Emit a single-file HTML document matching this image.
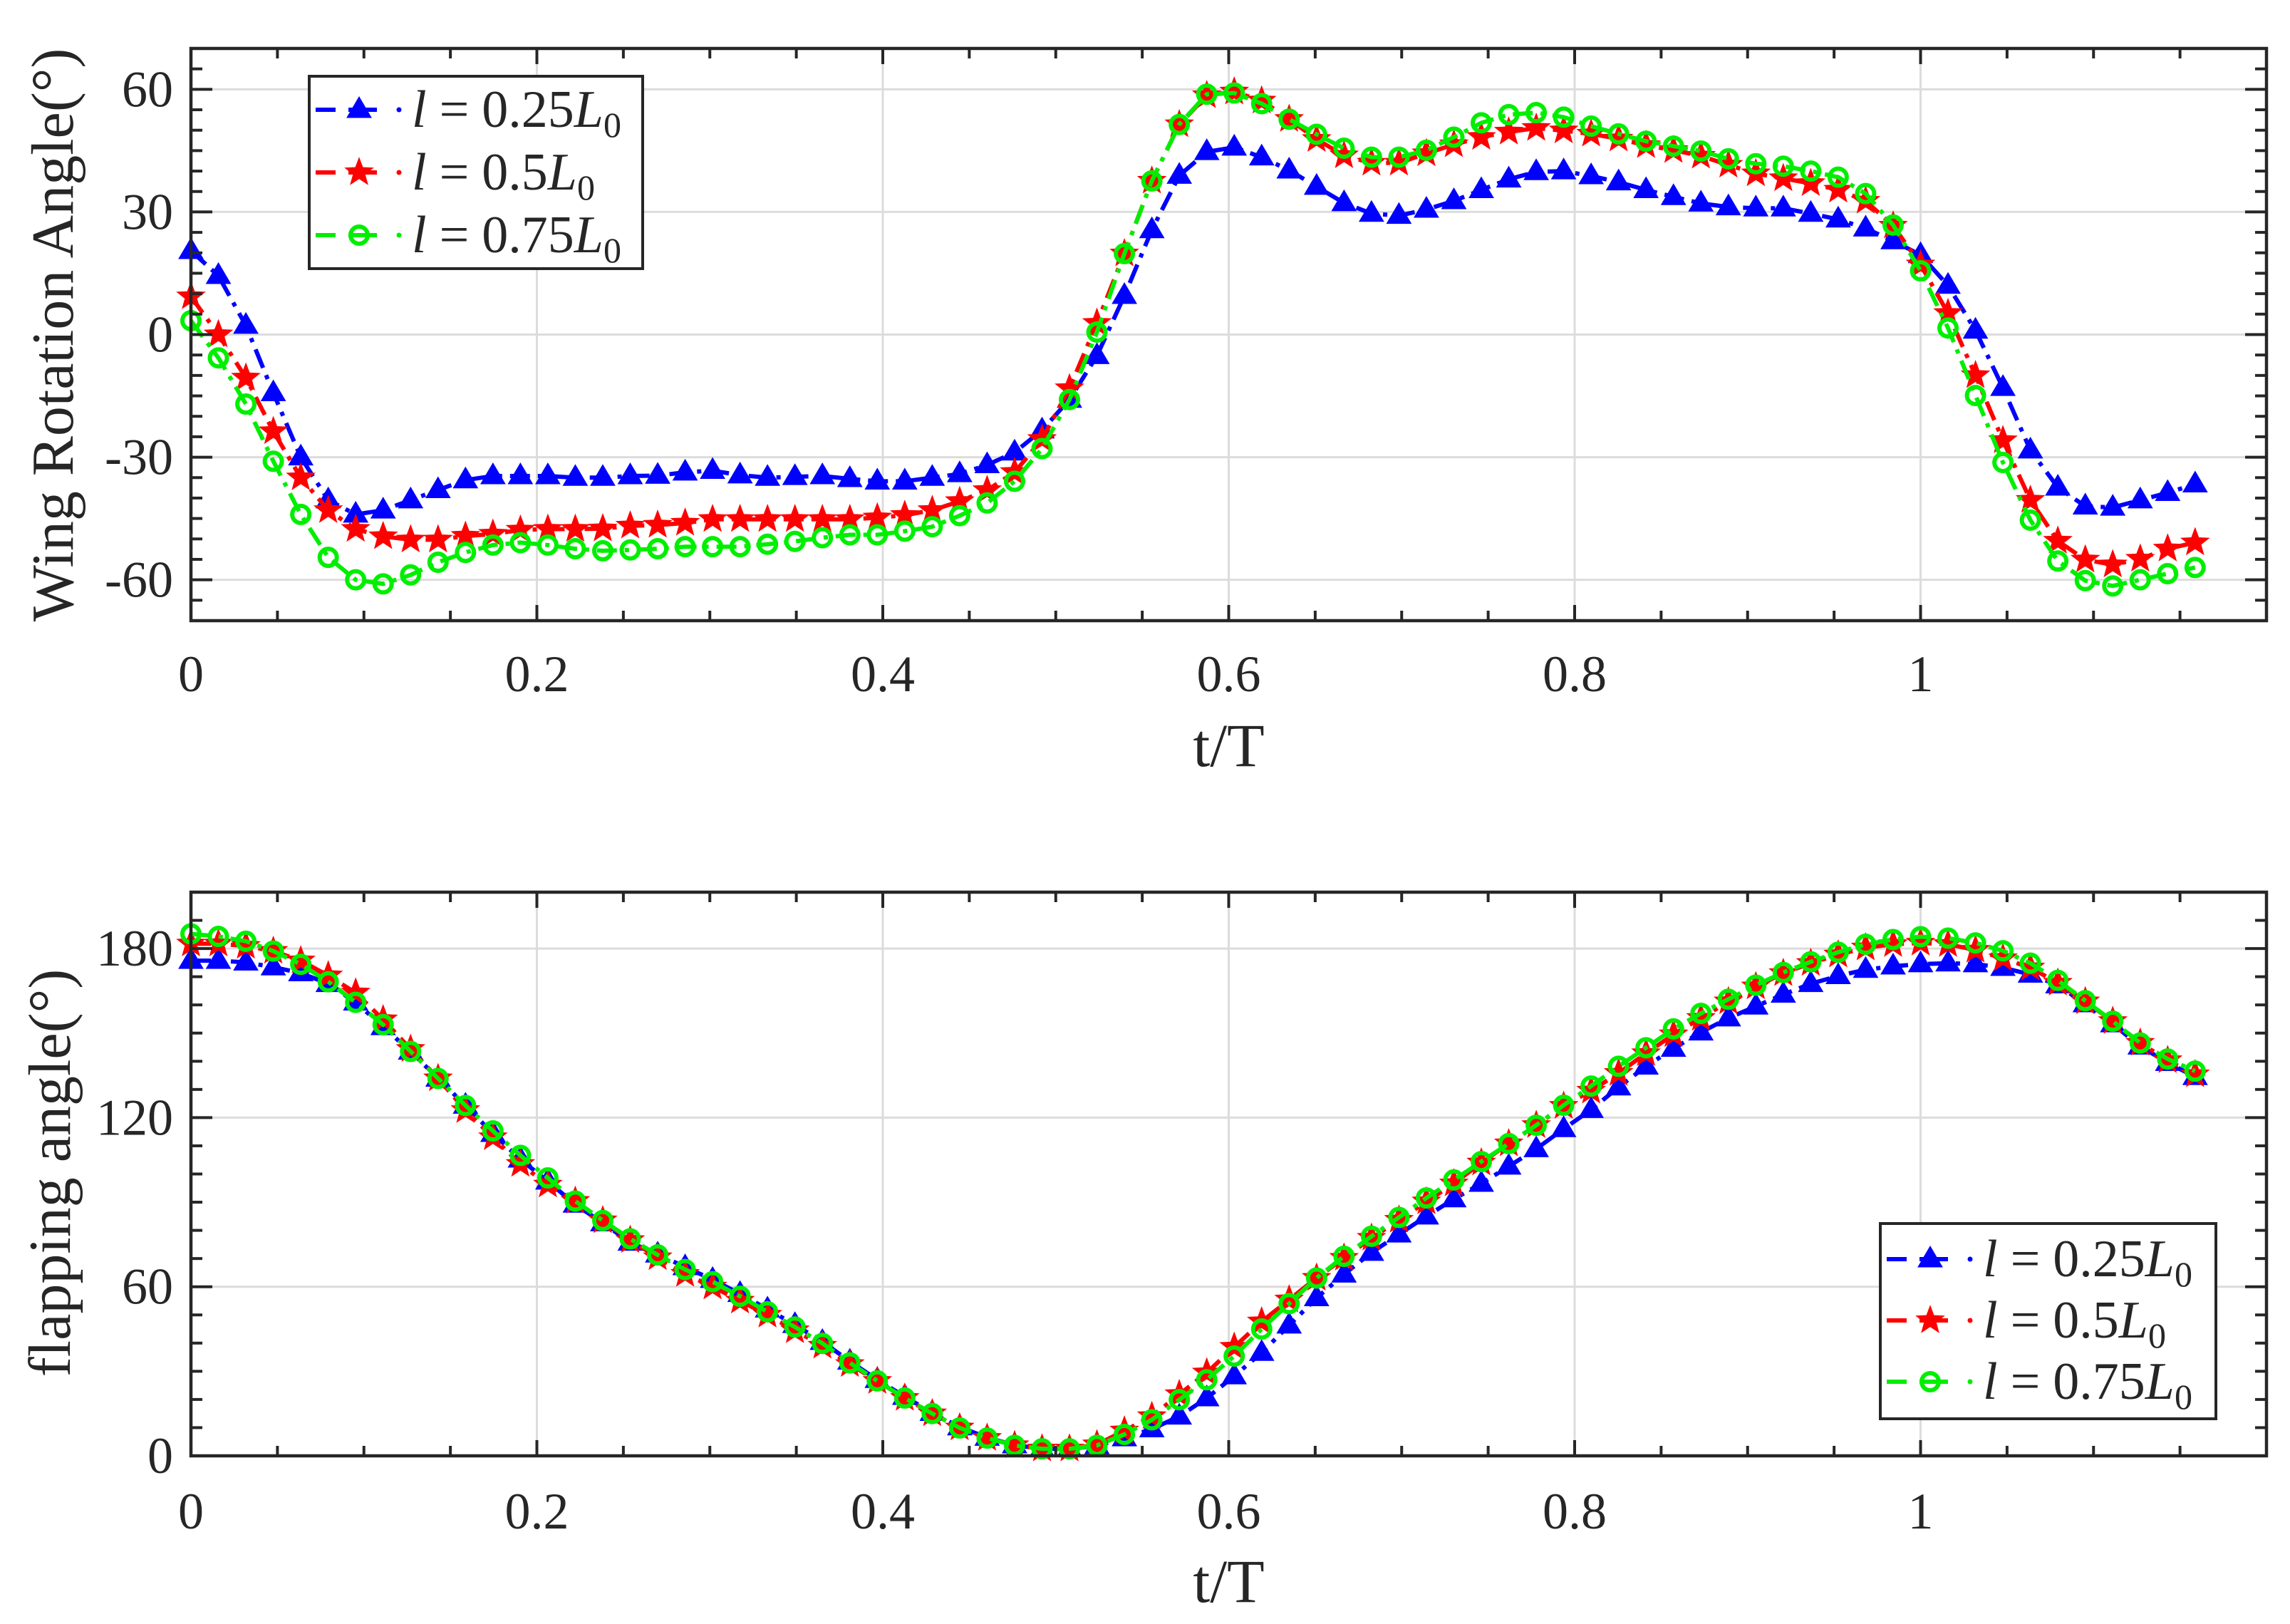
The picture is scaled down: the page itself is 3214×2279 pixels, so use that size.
<!DOCTYPE html>
<html><head><meta charset="utf-8"><style>
html,body{margin:0;padding:0;background:#fff;}
svg{display:block;font-family:"Liberation Serif",serif;}
</style></head><body>
<svg id="chart" xmlns="http://www.w3.org/2000/svg" width="3214" height="2279" viewBox="0 0 3214 2279">
<rect width="3214" height="2279" fill="#fff"/>
</svg>
<script>
// ---------- data ----------
const tStep = 1/63;
const rot25 = [20.5,14.4,2.2,-14.3,-30,-40.5,-44,-43,-40.5,-38,-35.6,-34.6,-34.6,-34.6,-35,-35,-34.6,-34.5,-33.7,
 -33.3,-34.4,-35,-34.8,-34.6,-35.3,-35.9,-35.9,-35,-34.1,-31.9,-28.8,-23.4,-15.9,-5.2,9.5,25.6,38.9,44.7,45.8,43.4,40.2,36.2,32.2,29.6,29.1,30.6,32.7,35.4,38,39.8,40,
 38.8,37.3,35.4,33.7,32.1,31.2,30.9,30.9,29.6,28.2,26,22.9,19.5,12,1,-13,-28.3,-37.4,-42,-42.3,-40.5,-38.7,-36.6];
const rot50 = [9.3,0,-10.6,-23.7,-35,-43,-47.6,-49.4,-50.2,-50.2,-49.3,-48.8,-47.8,-47.6,-47.6,-47.5,-46.8,
 -46.6,-46.1,-45.2,-45.2,-45.2,-45.2,-45.2,-45.2,-44.8,-44.2,-43,-40.8,-38.1,-33.7,-25.6,-13.2,2.8,19.8,37.6,51.4,58.5,59.4,57.2,52.7,47.8,43.8,42,42,44.3,46.5,48.3,49.6,50.5,49.9,
 49.1,47.9,46.3,45.1,43.7,41.5,39.4,38.2,37,35.4,32.7,26.6,17.1,5.2,-10,-25.9,-40.5,-50.5,-55.1,-56.3,-54.9,-52.4,-50.9];
const rot75 = [3.4,-5.7,-17,-31,-44,-54.5,-60,-61,-58.8,-55.7,-53.3,-51.5,-50.9,-51.5,-52.4,-52.9,-52.7,
 -52.4,-51.9,-51.9,-51.9,-51.3,-50.6,-49.7,-49,-49,-48.1,-47,-44.3,-41.2,-35.9,-27.9,-15.9,0.6,19.8,37.6,51.4,58.8,59.1,56.5,52.7,49,45.6,43.4,43.4,45.1,48.3,51.8,53.8,54.3,53.2,
 51,49.1,47.3,46.1,44.9,43,41.8,41.2,40,38.5,34.5,26.8,15.6,1.6,-14.9,-31.3,-45.4,-55.4,-60.2,-61.5,-60,-58.5,-57];
const flap25 = [175.7,175.7,175.1,173.4,171.3,167.5,160.9,152.2,143.5,133.9,124.3,114.3,105.2,97.4,89.2,82.6,75.7,71.5,67,
 62.5,57.5,52,46.5,40.5,33.5,27,21,15.3,10.2,6.5,3.8,2.5,2.5,3.5,
 6.3,9.5,14,20.5,28.3,36.6,46.3,56,64.4,72.1,78.6,85,91.1,96.6,102.7,108.9,116,
 122.8,130.8,138.2,144.5,150.3,155.3,159.5,163.7,167.5,170.3,172.5,173.7,174.5,174.8,174.5,173.2,170.8,167,160.3,153.2,145.3,139.5,134.5];
const flap50 = [181.7,181.7,180.9,179.1,175.7,170.4,164.3,154.8,144.3,133.9,122.6,113,103.5,96.2,90.4,83.5,76.5,70.4,64.5,
 60,55,50,44.5,39,32.5,26.5,20.5,15,10,6.3,3.7,2.5,2.5,4,
 8.9,14,21.8,29.5,38.6,47.6,55.4,63.1,70.2,77.3,83.7,90.2,96.6,104,110.8,117.3,124.1,
 129.5,135.8,142.8,149.5,155.3,161.2,166.5,171.2,174.8,177.8,180.3,181.5,182,181.5,179.5,176.5,173.2,167.8,161.2,154.2,146.5,140.3,135.3];
const flap75 = [185.2,184.3,182.6,179.1,174.4,168.2,160.9,153,143.5,133.9,124.3,115.3,106.6,98.6,90.4,83.5,77,71.3,66.1,
 61.8,56.6,51.1,45.7,39.9,33,26.6,20.5,15,9.9,6.3,3.7,2.5,2.5,3.7,
 7.6,12.8,19.9,27,35.4,45,54,63.1,70.8,77.9,84.6,91.5,97.9,104.4,110.8,117.3,124.4,
 131.2,138.2,144.8,151.5,157,162,167,171.5,175.3,178.7,181.5,183.2,184.2,183.7,182,179.2,174.8,168.7,161.5,154.2,146.5,140.8,136.5];
const xTickVals = [0,0.2,0.4,0.6,0.8,1];
const xTickLabels = ["0","0.2","0.4","0.6","0.8","1"];
const rotTickVals = [-60,-30,0,30,60];
const rotTickLabels = ["-60","-30","0","30","60"];
const flapTickVals = [0,60,120,180];
const flapTickLabels = ["0","60","120","180"];
const seriesNames = ["0.25","0.5","0.75"];

// ---------- drawing ----------
const NS = "http://www.w3.org/2000/svg";
const svg = document.getElementById("chart");
function mk(tag, attrs, parent){ const e=document.createElementNS(NS,tag); for(const k in attrs) e.setAttribute(k,attrs[k]); (parent||svg).appendChild(e); return e; }

const X0 = 268, X1 = 3181, XMAX = 1.2;
const colors = ["#0000ff","#ff0000","#00ee00"];

function triPath(x,y,s){ return `M${x},${y-s} L${x+s*0.95},${y+s*0.62} L${x-s*0.95},${y+s*0.62} Z`; }
function starPath(x,y,R){ let d=""; const r=R*0.42; for(let k=0;k<10;k++){ const a=-Math.PI/2+k*Math.PI/5; const rr=k%2?r:R; d+=(k?"L":"M")+(x+rr*Math.cos(a)).toFixed(1)+","+(y+rr*Math.sin(a)).toFixed(1);} return d+"Z"; }
function marker(g,type,x,y,c){
  let m;
  if(type===0){ m=mk("path",{d:triPath(x,y,17),fill:c,stroke:c,"stroke-width":2},g); }
  else if(type===1){ m=mk("path",{d:starPath(x,y,19),fill:c,stroke:c,"stroke-width":2},g); }
  else { m=mk("circle",{cx:x,cy:y,r:12,fill:"none",stroke:c,"stroke-width":6},g); }
  
  
}

function drawPanel(opt){
  const {top,bottom,ymin,ymax,yMinor,tickVals,tickLabels,series,name,yTitle,yTitleX,yTitleY,xLabelY,xTitleY} = opt;
  const g = mk("g",{});
  
  
  const sx = v => X0 + v/XMAX*(X1-X0);
  const sy = v => bottom - (v-ymin)/(ymax-ymin)*(bottom-top);
  xTickVals.forEach(v=>{ const l=mk("line",{x1:sx(v),x2:sx(v),y1:top,y2:bottom,stroke:"#dcdcdc","stroke-width":3},g);   });
  tickVals.forEach(v=>{ const l=mk("line",{x1:X0,x2:X1,y1:sy(v),y2:sy(v),stroke:"#dcdcdc","stroke-width":3},g);   });
  series.forEach((arr,si)=>{
    const sg = mk("g",{},g);
    
    
    const pts = arr.map((v,i)=>sx(i*tStep).toFixed(1)+","+sy(v).toFixed(1)).join(" ");
    const pl = mk("polyline",{points:pts,fill:"none",stroke:colors[si],"stroke-width":6,"stroke-dasharray":"28,11,6,11"},sg);
    
    
    arr.forEach((v,i)=>marker(sg,si,sx(i*tStep),sy(v),colors[si]));
  });
  for(let v=0; v<=XMAX+1e-9; v+=0.05){
    const major = Math.abs(v/0.2-Math.round(v/0.2))<1e-6;
    const L = major?22:14;
    mk("line",{x1:sx(v),x2:sx(v),y1:bottom,y2:bottom-L,stroke:"#262626","stroke-width":4},g);
    mk("line",{x1:sx(v),x2:sx(v),y1:top,y2:top+L,stroke:"#262626","stroke-width":4},g);
  }
  for(let v=ymin; v<=ymax+1e-9; v+=yMinor){
    const major = tickVals.indexOf(v)>=0;
    const L = major?30:16;
    mk("line",{x1:X0,x2:X0+L,y1:sy(v),y2:sy(v),stroke:"#262626","stroke-width":4},g);
    mk("line",{x1:X1,x2:X1-L,y1:sy(v),y2:sy(v),stroke:"#262626","stroke-width":4},g);
  }
  const box = mk("rect",{x:X0,y:top,width:X1-X0,height:bottom-top,fill:"none",stroke:"#262626","stroke-width":4.5},g);
  
  
  xTickVals.forEach((v,i)=>{ const t=mk("text",{x:sx(v),y:xLabelY,"font-size":72,"text-anchor":"middle",fill:"#262626"},g); t.textContent=xTickLabels[i];   });
  tickVals.forEach((v,i)=>{ const t=mk("text",{x:243,y:sy(v)+24,"font-size":72,"text-anchor":"end",fill:"#262626"},g); t.textContent=tickLabels[i];   });
  const xt = mk("text",{x:sx(0.6),y:xTitleY,"font-size":86,"text-anchor":"middle",fill:"#262626"},g);
  xt.textContent="t/T";
  
  
  const yt = mk("text",{x:0,y:0,"font-size":84,"text-anchor":"middle",fill:"#262626",transform:`translate(${yTitleX},${yTitleY}) rotate(-90)`},g);
  yt.textContent=yTitle;
  
  
  return g;
}

function drawLegend(x,y,w,h,rows){
  const g = mk("g",{});
  
  
  const r = mk("rect",{x:x,y:y,width:w,height:h,fill:"#fff",stroke:"#262626","stroke-width":4},g);
  
  
  rows.forEach((ry,i)=>{
    const eg = mk("g",{},g);
    
    
    const c=colors[i];
    mk("line",{x1:x+9,x2:x+37,y1:ry,y2:ry,stroke:c,"stroke-width":6},eg);
    mk("line",{x1:x+55,x2:x+95,y1:ry,y2:ry,stroke:c,"stroke-width":6},eg);
    marker(eg,i,x+70,ry,c);
    mk("circle",{cx:x+126,cy:ry,r:3.5,fill:c},eg);
    const t = mk("text",{x:x+144,y:ry+24,"font-size":74,fill:"#262626"},eg);
    t.innerHTML = `<tspan font-style="italic">l</tspan><tspan dx="18">=</tspan><tspan dx="18">0.${seriesNames[i].split('.')[1]}</tspan><tspan font-style="italic">L</tspan><tspan font-size="50" dy="14">0</tspan>`;
    
    
  });
}

drawPanel({top:68,bottom:871,ymin:-70,ymax:70,yMinor:5,tickVals:rotTickVals,tickLabels:rotTickLabels,
  series:[rot25,rot50,rot75],name:"rotation-angle-panel",yTitle:"Wing Rotation Angle(°)",yTitleX:102,yTitleY:470,xLabelY:970,xTitleY:1075});
drawPanel({top:1252,bottom:2043,ymin:0,ymax:200,yMinor:10,tickVals:flapTickVals,tickLabels:flapTickLabels,
  series:[flap25,flap50,flap75],name:"flapping-angle-panel",yTitle:"flapping angle(°)",yTitleX:98,yTitleY:1646,xLabelY:2145,xTitleY:2248});
drawLegend(434,107,468,270,[154,242,330]);
drawLegend(2639,1717,471,274,[1767,1853,1939]);
</script>
</body></html>
